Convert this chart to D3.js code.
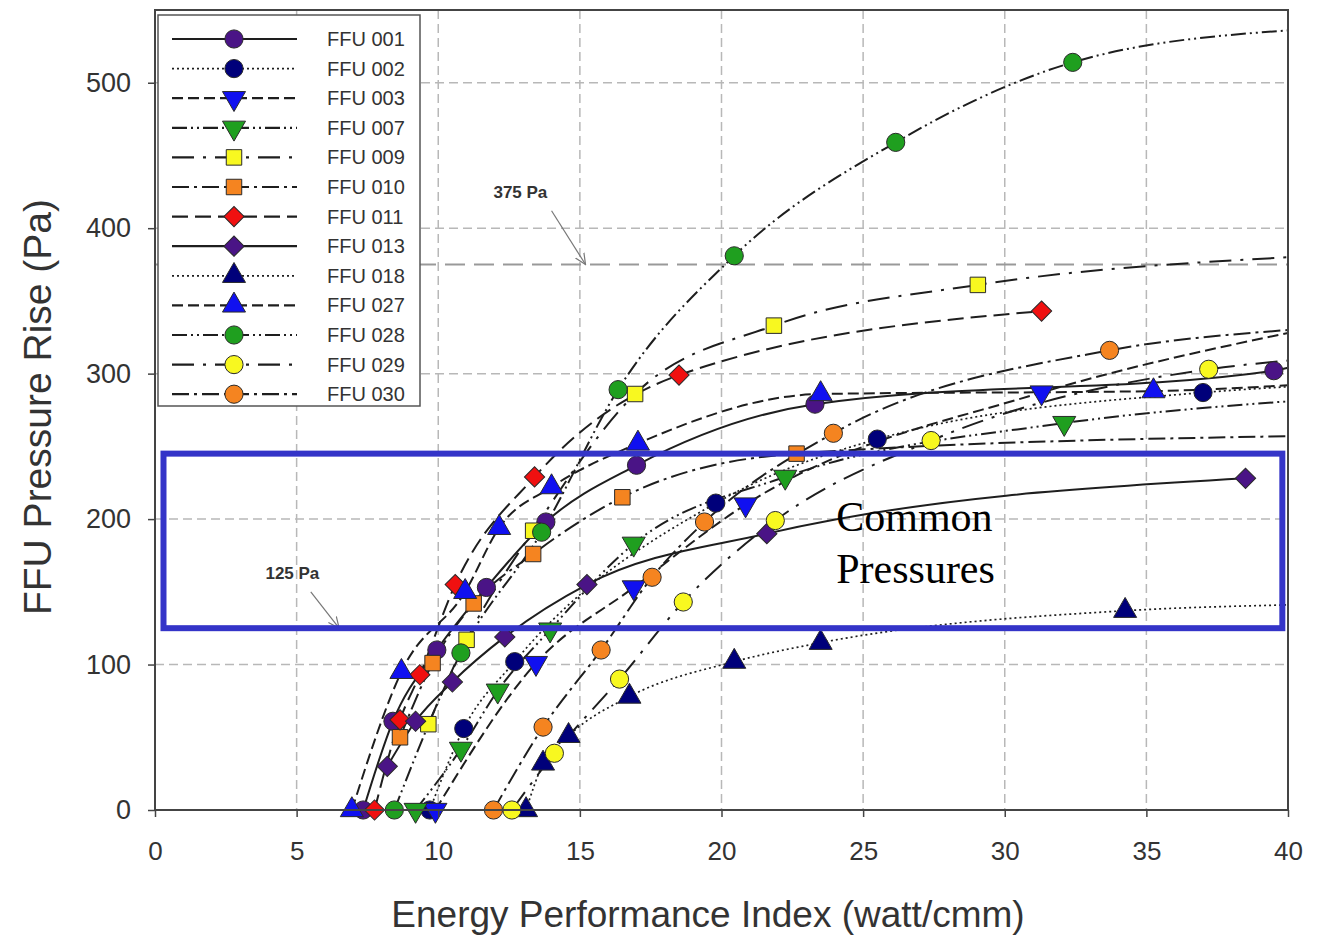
<!DOCTYPE html>
<html>
<head>
<meta charset="utf-8">
<script src="https://cdn.jsdelivr.net/npm/d3@7"></script>
<style>
  body { margin: 0; background: #fff; }
  svg { display: block; }
  .tick text { font-family: "Liberation Sans", Arial, sans-serif; fill: #333; }
</style>
</head>
<body>
<div id="chart"></div>
<script>
// data: [energy performance index, pressure rise]
var ffu001 = [[7.35, 0], [8.4, 61], [9.95, 110], [11.7, 153], [13.8, 198], [17.0, 237], [23.3, 279], [39.5, 302]];
var ffu002 = [[9.7, 0], [10.9, 56], [12.7, 102], [19.8, 211], [25.5, 255], [37.0, 287]];
var ffu003 = [[9.9, 0], [13.45, 101], [16.9, 153], [20.85, 210], [31.3, 287]];
var ffu007 = [[9.2, 0], [10.8, 42], [12.1, 82], [13.95, 124], [16.9, 183], [22.25, 229], [32.1, 266]];
var ffu009 = [[9.65, 59], [11.0, 117], [13.35, 192], [16.95, 286], [21.85, 333], [29.05, 361]];
var ffu010 = [[8.65, 50], [9.8, 101], [11.25, 142], [13.35, 176], [16.5, 215], [22.65, 245]];
var ffu011 = [[7.75, 0], [8.65, 62], [9.35, 93], [10.6, 155], [13.4, 229], [18.5, 299], [31.3, 343]];
var ffu013 = [[8.2, 30], [9.2, 61], [10.5, 88], [12.35, 119], [15.25, 155], [21.6, 190], [38.5, 228]];
var ffu018 = [[13.1, 0], [13.7, 32], [14.6, 51], [16.75, 78], [20.45, 102], [23.5, 115], [34.25, 137]];
var ffu027 = [[6.95, 0], [8.7, 95], [10.95, 150], [12.15, 194], [14.0, 222], [17.05, 252], [23.5, 286], [35.25, 288]];
var ffu028 = [[8.45, 0], [10.8, 108], [13.65, 191], [16.35, 289], [20.45, 381], [26.15, 459], [32.4, 514]];
var ffu029 = [[12.6, 0], [14.1, 39], [16.4, 90], [18.65, 143], [21.9, 199], [27.4, 254], [37.2, 303]];
var ffu030 = [[11.95, 0], [13.7, 57], [15.75, 110], [17.55, 160], [19.4, 198], [23.95, 259], [33.7, 316]];

// where the fitted curve leaves the right edge (null = curve stops at last point)
var fitEnds = [304, 291, 328, 281, 380, 257, null, null, 141, 292, 536, 309, 330];

var names = ["FFU 001", "FFU 002", "FFU 003", "FFU 007", "FFU 009", "FFU 010", "FFU 011",
             "FFU 013", "FFU 018", "FFU 027", "FFU 028", "FFU 029", "FFU 030"];

var xTicks = [0, 5, 10, 15, 20, 25, 30, 35, 40];
var yTicks = [0, 100, 200, 300, 400, 500];
var limitLine = 375;
var commonRange = [125, 245];

var width = 1317, height = 942;
var margin = {top: 10, right: 29, bottom: 132, left: 155};

var x = d3.scaleLinear().domain([0, 40]).range([margin.left, width - margin.right]);
var y = d3.scaleLinear().domain([0, 550]).range([height - margin.bottom, margin.top]);

var purple = "#4a1486", navy = "#00007a", blue = "#1010f0", green = "#1f9f1f",
    yellow = "#f8f820", orange = "#f58420", red = "#f01010";

var solid = null, dotted = "2,3", dashed = "11,5", dashDotDot = "15,4,2,4,2,4",
    longDash = "22,9,3,9", dashDot = "17,5,3,5", midDash = "16,7";

var series = [
  {data: ffu001, color: purple, shape: "circle", dash: solid},
  {data: ffu002, color: navy, shape: "circle", dash: dotted},
  {data: ffu003, color: blue, shape: "down", dash: dashed},
  {data: ffu007, color: green, shape: "down", dash: dashDotDot},
  {data: ffu009, color: yellow, shape: "square", dash: longDash},
  {data: ffu010, color: orange, shape: "square", dash: dashDot},
  {data: ffu011, color: red, shape: "diamond", dash: midDash},
  {data: ffu013, color: purple, shape: "diamond", dash: solid},
  {data: ffu018, color: navy, shape: "up", dash: dotted},
  {data: ffu027, color: blue, shape: "up", dash: dashed},
  {data: ffu028, color: green, shape: "circle", dash: dashDotDot},
  {data: ffu029, color: yellow, shape: "circle", dash: longDash},
  {data: ffu030, color: orange, shape: "circle", dash: dashDot}
];
series.forEach(function (s, i) {
  s.name = names[i];
  s.end = fitEnds[i];
});

var svg = d3.select("#chart").append("svg")
  .attr("width", width)
  .attr("height", height);

// grid
svg.append("g")
  .selectAll("line")
  .data(xTicks.slice(1, -1))
  .join("line")
  .attr("x1", function (d) { return x(d); })
  .attr("x2", function (d) { return x(d); })
  .attr("y1", y(550))
  .attr("y2", y(0))
  .attr("stroke", "#b8b8b8")
  .attr("stroke-width", 1.5)
  .attr("stroke-dasharray", "9,5");

svg.append("g")
  .selectAll("line")
  .data(yTicks.slice(1))
  .join("line")
  .attr("x1", x(0))
  .attr("x2", x(40))
  .attr("y1", function (d) { return y(d); })
  .attr("y2", function (d) { return y(d); })
  .attr("stroke", "#b8b8b8")
  .attr("stroke-width", 1.5)
  .attr("stroke-dasharray", "9,5");

svg.append("line")
  .attr("x1", x(0))
  .attr("x2", x(40))
  .attr("y1", y(limitLine))
  .attr("y2", y(limitLine))
  .attr("stroke", "#999")
  .attr("stroke-width", 2)
  .attr("stroke-dasharray", "20,9");

// curves
var line = d3.line()
  .x(function (d) { return x(d[0]); })
  .y(function (d) { return y(d[1]); })
  .curve(d3.curveMonotoneX);

svg.append("g")
  .selectAll("path")
  .data(series)
  .join("path")
  .attr("d", function (s) {
    var pts = s.data.slice();
    if (s.end !== null) pts.push([40, s.end]);
    return line(pts);
  })
  .attr("fill", "none")
  .attr("stroke", "#1e1e1e")
  .attr("stroke-width", function (s) { return s.dash === dotted ? 1.7 : 2; })
  .attr("stroke-dasharray", function (s) { return s.dash; });

// markers
function symbolPath(shape) {
  if (shape === "circle") return d3.symbol(d3.symbolCircle, 260)();
  if (shape === "square") return d3.symbol(d3.symbolSquare, 240)();
  if (shape === "diamond") return d3.symbol(d3.symbolSquare, 205)();
  return d3.symbol(d3.symbolTriangle, 230)();
}
function symbolRotate(shape) {
  if (shape === "diamond") return 45;
  if (shape === "down") return 180;
  return 0;
}

series.forEach(function (s) {
  svg.append("g")
    .selectAll("path")
    .data(s.data)
    .join("path")
    .attr("d", symbolPath(s.shape))
    .attr("transform", function (d) {
      return "translate(" + x(d[0]) + "," + y(d[1]) + ") rotate(" + symbolRotate(s.shape) + ")";
    })
    .attr("fill", s.color)
    .attr("stroke", "#2a2a2a")
    .attr("stroke-width", 1);
});

// axes
svg.append("g")
  .attr("transform", "translate(0," + y(0) + ")")
  .call(d3.axisBottom(x).tickValues(xTicks).tickSize(7).tickPadding(25))
  .call(function (g) { g.select(".domain").remove(); })
  .selectAll("text")
  .attr("font-size", 26);

svg.append("g")
  .attr("transform", "translate(" + x(0) + ",0)")
  .call(d3.axisLeft(y).tickValues(yTicks).tickSize(7).tickPadding(17))
  .call(function (g) { g.select(".domain").remove(); })
  .selectAll("text")
  .attr("font-size", 27);

svg.selectAll(".tick line").attr("stroke", "#444").attr("stroke-width", 1.5);

svg.append("rect")
  .attr("x", x(0))
  .attr("y", y(550))
  .attr("width", x(40) - x(0))
  .attr("height", y(0) - y(550))
  .attr("fill", "none")
  .attr("stroke", "#444")
  .attr("stroke-width", 2);

svg.append("text")
  .attr("x", 708)
  .attr("y", 927)
  .attr("text-anchor", "middle")
  .attr("font-family", "Liberation Sans, Arial, sans-serif")
  .attr("font-size", 37)
  .attr("fill", "#333")
  .text("Energy Performance Index (watt/cmm)");

svg.append("text")
  .attr("transform", "translate(51,407) rotate(-90)")
  .attr("text-anchor", "middle")
  .attr("font-family", "Liberation Sans, Arial, sans-serif")
  .attr("font-size", 39)
  .attr("fill", "#333")
  .text("FFU Pressure Rise (Pa)");

// legend
var legend = svg.append("g");
legend.append("rect")
  .attr("x", 158)
  .attr("y", 15)
  .attr("width", 262)
  .attr("height", 391)
  .attr("fill", "#fff")
  .attr("stroke", "#555")
  .attr("stroke-width", 1.5);

var rows = legend.selectAll("g.row")
  .data(series)
  .join("g")
  .attr("class", "row")
  .attr("transform", function (s, i) { return "translate(0," + (39 + i * 29.6) + ")"; });

rows.append("line")
  .attr("x1", 172)
  .attr("x2", 297)
  .attr("stroke", "#1e1e1e")
  .attr("stroke-width", function (s) { return s.dash === dotted ? 1.7 : 2.2; })
  .attr("stroke-dasharray", function (s) { return s.dash; });

rows.append("path")
  .attr("d", function (s) { return symbolPath(s.shape); })
  .attr("transform", function (s) { return "translate(234,0) rotate(" + symbolRotate(s.shape) + ")"; })
  .attr("fill", function (s) { return s.color; })
  .attr("stroke", "#2a2a2a")
  .attr("stroke-width", 1);

rows.append("text")
  .attr("x", 327)
  .attr("dy", "0.35em")
  .attr("font-family", "Liberation Sans, Arial, sans-serif")
  .attr("font-size", 20)
  .attr("fill", "#333")
  .text(function (s) { return s.name; });

// annotations
var notes = [
  {label: "375 Pa", at: [12.9, 425], from: [14.0, 412], to: [15.2, 375]},
  {label: "125 Pa", at: [4.85, 163], from: [5.5, 150], to: [6.5, 125]}
];

svg.append("defs").append("marker")
  .attr("id", "arrow")
  .attr("viewBox", "0 0 12 12")
  .attr("refX", 11)
  .attr("refY", 6)
  .attr("markerWidth", 12)
  .attr("markerHeight", 12)
  .attr("markerUnits", "userSpaceOnUse")
  .attr("orient", "auto")
  .append("path")
  .attr("d", "M0,1 L11,6 L0,11")
  .attr("fill", "none")
  .attr("stroke", "#777")
  .attr("stroke-width", 1.2);

notes.forEach(function (n) {
  svg.append("text")
    .attr("x", x(n.at[0]))
    .attr("y", y(n.at[1]))
    .attr("text-anchor", "middle")
    .attr("dy", "0.35em")
    .attr("font-family", "Liberation Sans, Arial, sans-serif")
    .attr("font-size", 17)
    .attr("font-weight", "bold")
    .attr("fill", "#333")
    .text(n.label);
  svg.append("line")
    .attr("x1", x(n.from[0]))
    .attr("y1", y(n.from[1]))
    .attr("x2", x(n.to[0]))
    .attr("y2", y(n.to[1]))
    .attr("stroke", "#777")
    .attr("stroke-width", 1.2)
    .attr("marker-end", "url(#arrow)");
});

// common pressure band
svg.append("rect")
  .attr("x", x(0.3))
  .attr("y", y(commonRange[1]))
  .attr("width", x(39.8) - x(0.3))
  .attr("height", y(commonRange[0]) - y(commonRange[1]))
  .attr("fill", "none")
  .attr("stroke", "#3434c8")
  .attr("stroke-width", 6);

svg.append("text")
  .attr("font-family", "Liberation Serif, Times New Roman, serif")
  .attr("font-size", 42)
  .attr("fill", "#000")
  .selectAll("tspan")
  .data(["Common", "Pressures"])
  .join("tspan")
  .attr("x", x(24.05))
  .attr("y", function (d, i) { return y(191.5) + i * 52; })
  .text(function (d) { return d; });
</script>
</body>
</html>
